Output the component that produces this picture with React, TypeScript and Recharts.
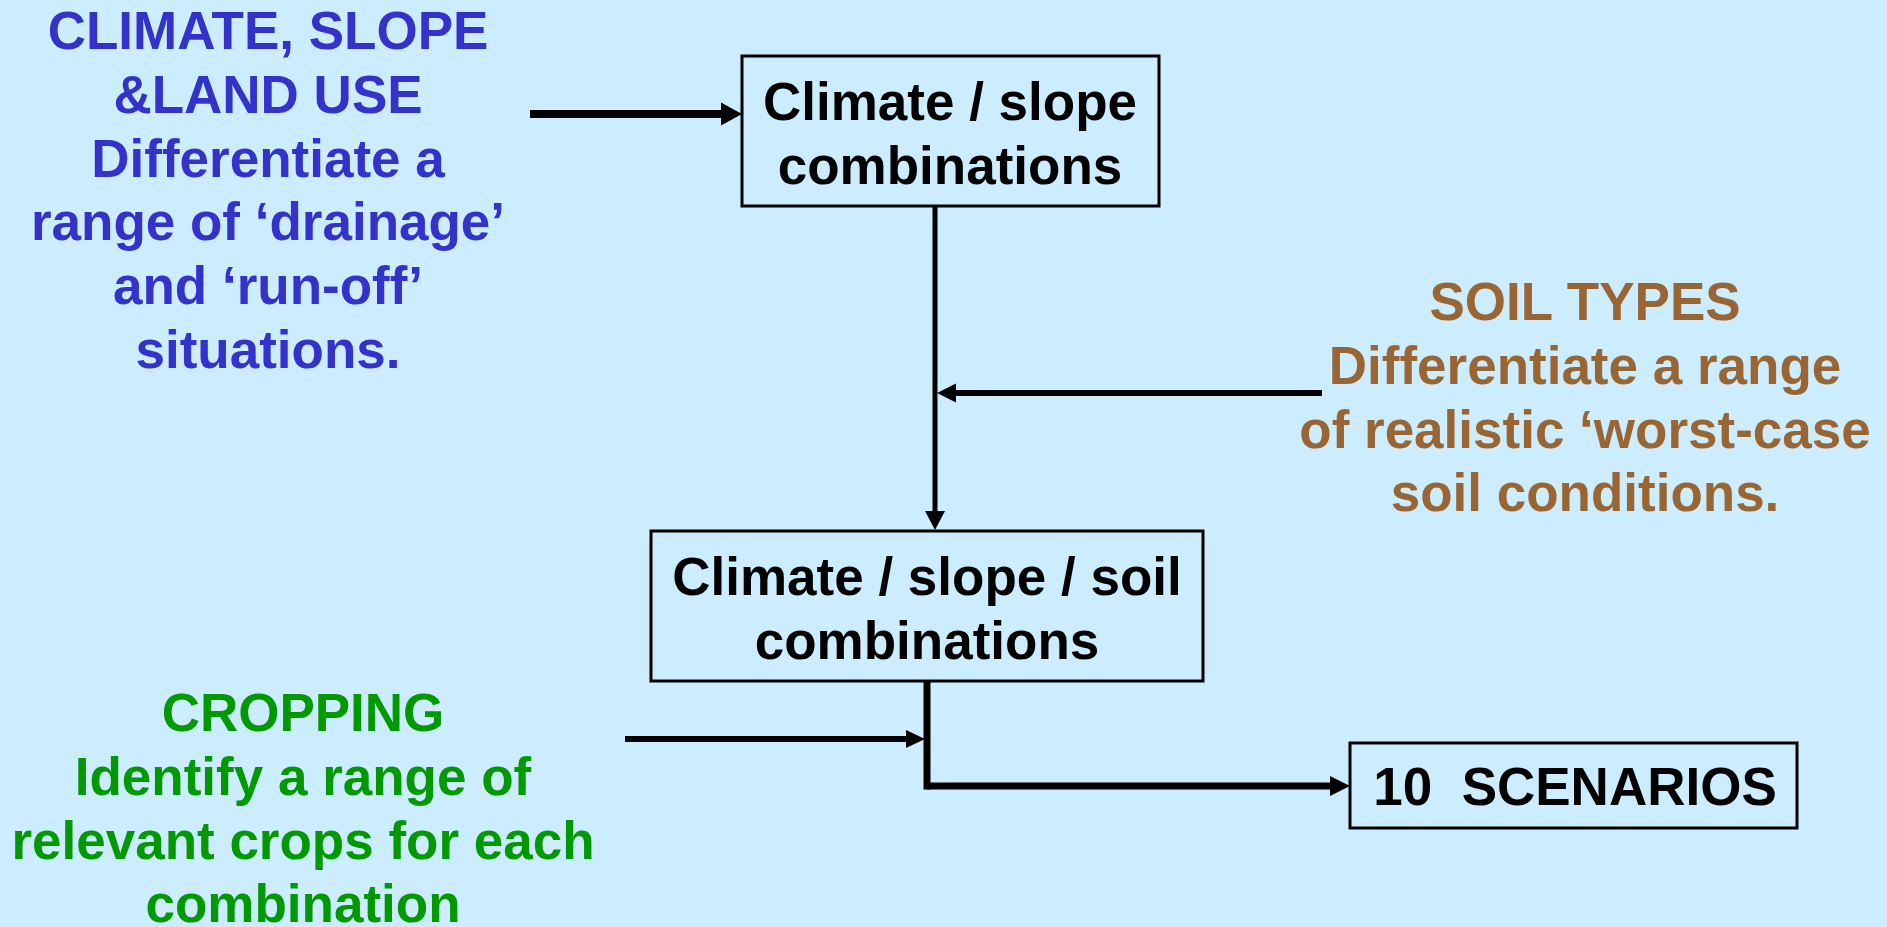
import { ComposedChart, XAxis, YAxis, Scatter, ReferenceArea, ReferenceLine } from 'recharts';

const W = 1887;
const H = 927;

// text of each block
const climateLines = ['CLIMATE, SLOPE', '&LAND USE', 'Differentiate a', 'range of ‘drainage’', 'and ‘run-off’', 'situations.'];
const soilLines = ['SOIL TYPES', 'Differentiate a range', 'of realistic ‘worst-case', 'soil conditions.'];
const croppingLines = ['CROPPING', 'Identify a range of', 'relevant crops for each', 'combination'];
const box1Lines = ['Climate / slope', 'combinations'];
const box2Lines = ['Climate / slope / soil', 'combinations'];
const box3Lines = ['10  SCENARIOS'];

// diagram layout, in page pixels (x right, y down)
const textBlocks = [
  { lines: climateLines, cx: 268, top: 49, color: '#3333CC' },
  { lines: box1Lines, cx: 950, top: 120, color: '#000000' },
  { lines: soilLines, cx: 1585, top: 320, color: '#996633' },
  { lines: box2Lines, cx: 927, top: 595, color: '#000000' },
  { lines: croppingLines, cx: 303, top: 731, color: '#009900' },
  { lines: box3Lines, cx: 1575, top: 805, color: '#000000' },
];
const LINE_GAP = 63.8;

const boxes = [
  { x1: 742, x2: 1159, y1: 56, y2: 206 },
  { x1: 651, x2: 1203, y1: 531, y2: 681 },
  { x1: 1350, x2: 1797, y1: 743, y2: 828 },
];

// connectors: polyline points, last point carries the arrow tip
const connectors = [
  { pts: [{ x: 530, y: 114 }, { x: 742, y: 114 }], w: 8, head: [21, 23] },
  { pts: [{ x: 935, y: 206 }, { x: 935, y: 530 }], w: 5, head: [19, 20] },
  { pts: [{ x: 1322, y: 393 }, { x: 937, y: 393 }], w: 6, head: [19, 19] },
  { pts: [{ x: 625, y: 739 }, { x: 925, y: 739 }], w: 6, head: [19, 18] },
  { pts: [{ x: 927, y: 681 }, { x: 927, y: 786 }, { x: 1350, y: 786 }], w: 7, head: [20, 20] },
];

const textPoints = textBlocks.flatMap((b) =>
  b.lines.map((t, i) => ({ x: b.cx, y: b.top + i * LINE_GAP, text: t, color: b.color }))
);

const headPoints = connectors.map((c) => {
  const a = c.pts[c.pts.length - 2];
  const b = c.pts[c.pts.length - 1];
  return { x: b.x, y: b.y, dx: Math.sign(b.x - a.x), dy: Math.sign(b.y - a.y), len: c.head[0], wid: c.head[1] };
});

const segments = connectors.flatMap((c) =>
  c.pts.slice(1).map((p, i) => {
    const a = c.pts[i];
    const dx = Math.sign(p.x - a.x);
    const dy = Math.sign(p.y - a.y);
    const last = i === c.pts.length - 2;
    // shaft stops inside the arrow head; inner corners get extended by half the width
    const k = last ? -c.head[0] * 0.6 : c.w / 2;
    return { a, b: { x: p.x + dx * k, y: p.y + dy * k }, w: c.w };
  })
);

const TextShape = (props: any) => {
  const { cx, cy, payload } = props;
  return (
    <text
      x={cx}
      y={cy}
      textAnchor="middle"
      fill={payload.color}
      fontFamily="'Liberation Sans', Arial, sans-serif"
      fontWeight="bold"
      fontSize={53}
      style={{ whiteSpace: 'pre' }}
    >
      {payload.text}
    </text>
  );
};

const HeadShape = (props: any) => {
  const { cx, cy, payload } = props;
  const { dx, dy, len, wid } = payload;
  const bx = cx - dx * len;
  const by = cy - dy * len;
  const px = -dy * (wid / 2);
  const py = dx * (wid / 2);
  const pts = `${cx},${cy} ${bx + px},${by + py} ${bx - px},${by - py}`;
  return <polygon points={pts} fill="#000" />;
};

const App = () => {
  return (
    <div style={{ position: 'fixed', left: 0, top: 0, width: W, height: H, background: '#CCECFF' }}>
      <ComposedChart width={W} height={H} margin={{ top: 0, right: 0, bottom: 0, left: 0 }}>
        <XAxis type="number" dataKey="x" domain={[0, W]} allowDataOverflow hide />
        <YAxis type="number" dataKey="y" domain={[0, H]} allowDataOverflow reversed hide />
        {boxes.map((b, i) => (
          <ReferenceArea
            key={`box-${i}`}
            x1={b.x1}
            x2={b.x2}
            y1={b.y1}
            y2={b.y2}
            fill="none"
            fillOpacity={0}
            stroke="#000"
            strokeWidth={3}
            ifOverflow="visible"
          />
        ))}
        {segments.map((s, i) => (
          <ReferenceLine
            key={`seg-${i}`}
            segment={[s.a, s.b]}
            stroke="#000"
            strokeWidth={s.w}
            ifOverflow="visible"
          />
        ))}
        <Scatter data={headPoints} shape={<HeadShape />} isAnimationActive={false} />
        <Scatter data={textPoints} shape={<TextShape />} isAnimationActive={false} />
      </ComposedChart>
    </div>
  );
};

export default App;
